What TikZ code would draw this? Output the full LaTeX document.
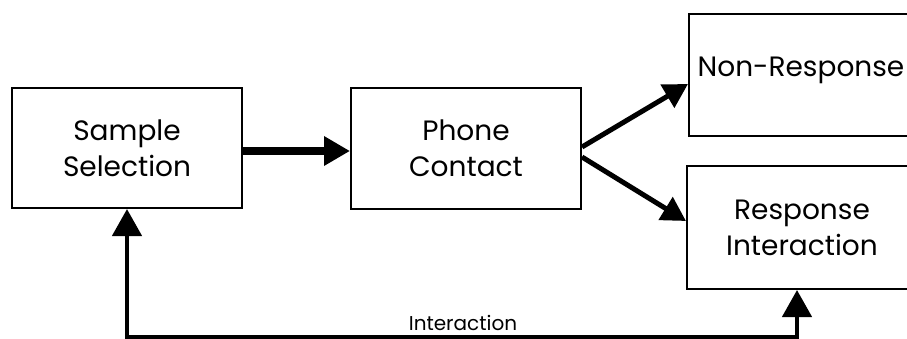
\documentclass[tikz,border=0pt]{standalone}
\usepackage{fontspec}
\setmainfont{Poppins}
\usetikzlibrary{arrows.meta}
\tikzset{
  box/.style={draw, line width=2pt, rectangle, align=center, font=\fontsize{28}{36}\selectfont, inner sep=0pt},
  flow/.style={line width=8pt, -{Triangle[length=26pt,width=28pt]}},
  branch/.style={line width=5pt, -{Triangle[length=24pt,width=26pt]}},
  loop/.style={line width=4.5pt, {Triangle[length=27pt,width=29pt]}-{Triangle[length=27pt,width=29pt]}},
}
\begin{document}
\begin{tikzpicture}[x=1pt,y=-1pt]
\useasboundingbox (0,0) rectangle (907,339);
\node[box, minimum width=230pt, minimum height=120pt] (sample) at (127,148) {Sample\\Selection};
\node[box, minimum width=230pt, minimum height=121pt] (phone) at (466,148.5) {Phone\\Contact};
\node[box, minimum width=226pt, minimum height=122pt] (nonresp) at (802,75) {};
\node[font=\fontsize{28}{36}\selectfont] (nrtext) at (801,70) {Non-Response};
\node[box, minimum width=230pt, minimum height=123pt] (resp) at (802,227.5) {Response\\Interaction};
\coordinate (fb) at (797,337);
\draw[flow] (sample.east |- 0,151) -- (phone.west |- 0,151);
\draw[branch] ([yshift=1.5pt]phone.east) -- ([yshift=-9pt]nonresp.west);
\draw[branch] ([yshift=-8.5pt]phone.east) -- ([yshift=6.5pt]resp.west);
\draw[loop] (sample.south) |- (fb) -- (fb |- resp.south);
\node[font=\fontsize{20}{24}\selectfont, anchor=base] (lbl) at (463,330) {Interaction};
\end{tikzpicture}
\end{document}
